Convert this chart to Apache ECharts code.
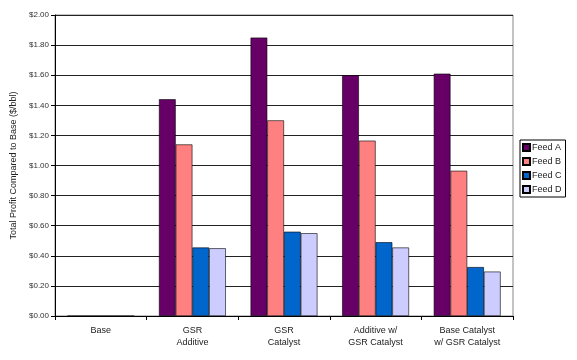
<!DOCTYPE html>
<html>
<head>
<meta charset="utf-8">
<script src="https://cdn.jsdelivr.net/npm/echarts@6/dist/echarts.min.js"></script>
<style>html,body{margin:0;padding:0;background:#fff}#c{width:577px;height:360px}</style>
</head>
<body>
<div id="c"></div>
<script>
var categories = ["Base", "GSR\nAdditive", "GSR\nCatalyst", "Additive w/\nGSR Catalyst", "Base Catalyst\nw/ GSR Catalyst"];
var feedA = [0, 1.44, 1.85, 1.60, 1.61];
var feedB = [0, 1.14, 1.30, 1.165, 0.965];
var feedC = [0, 0.455, 0.56, 0.49, 0.325];
var feedD = [0, 0.45, 0.55, 0.455, 0.295];
var seriesNames = ["Feed A", "Feed B", "Feed C", "Feed D"];
var seriesColors = ["#660066", "#FF8080", "#0066CC", "#CCCCFF"];
var yTicks = [0, 0.2, 0.4, 0.6, 0.8, 1.0, 1.2, 1.4, 1.6, 1.8, 2.0];

var chart = echarts.init(document.getElementById('c'), null, {renderer: 'canvas'});
var data = [feedA, feedB, feedC, feedD];
var font = 'Liberation Sans, Arial, sans-serif';
chart.setOption({
  animation: false,
  textStyle: {fontFamily: font},
  grid: {left: 55, right: 64, top: 15, bottom: 44, show: true, borderColor: '#888', borderWidth: 1, backgroundColor: 'transparent'},
  legend: {
    orient: 'vertical', left: 520, top: 140,
    data: seriesNames,
    itemWidth: 7, itemHeight: 7, itemGap: 5,
    padding: [3, 4, 3, 2],
    borderColor: '#000', borderWidth: 1,
    textStyle: {fontSize: 9, color: '#222', padding: [0, 0, 0, -3], fontFamily: font},
    icon: 'rect'
  },
  xAxis: {
    type: 'category', data: categories,
    axisLine: {lineStyle: {color: '#000', width: 1}},
    axisTick: {show: true, alignWithLabel: false, length: 4, lineStyle: {color: '#000'}},
    axisLabel: {fontSize: 9, color: '#222', lineHeight: 12, margin: 9, fontFamily: font}
  },
  yAxis: {
    type: 'value', min: 0, max: 2, interval: 0.2,
    name: 'Total Profit Compared to Base ($/bbl)',
    nameLocation: 'middle', nameGap: 31, nameRotate: 90,
    nameTextStyle: {fontSize: 9, color: '#222', fontFamily: font},
    axisLine: {show: true, lineStyle: {color: '#000', width: 1}},
    axisTick: {show: true, length: 4, lineStyle: {color: '#000'}},
    splitLine: {lineStyle: {color: '#222', width: 1}},
    axisLabel: {fontSize: 8, color: '#333', margin: 6, fontFamily: font,
      formatter: function (v) { return '$' + v.toFixed(2); }}
  },
  series: seriesNames.map(function (n, i) {
    return {
      name: n, type: 'bar', data: data[i],
      barGap: '0%', barCategoryGap: '27%',
      itemStyle: {color: seriesColors[i], borderColor: '#000', borderWidth: 0.6}
    };
  })
});
</script>
</body>
</html>
